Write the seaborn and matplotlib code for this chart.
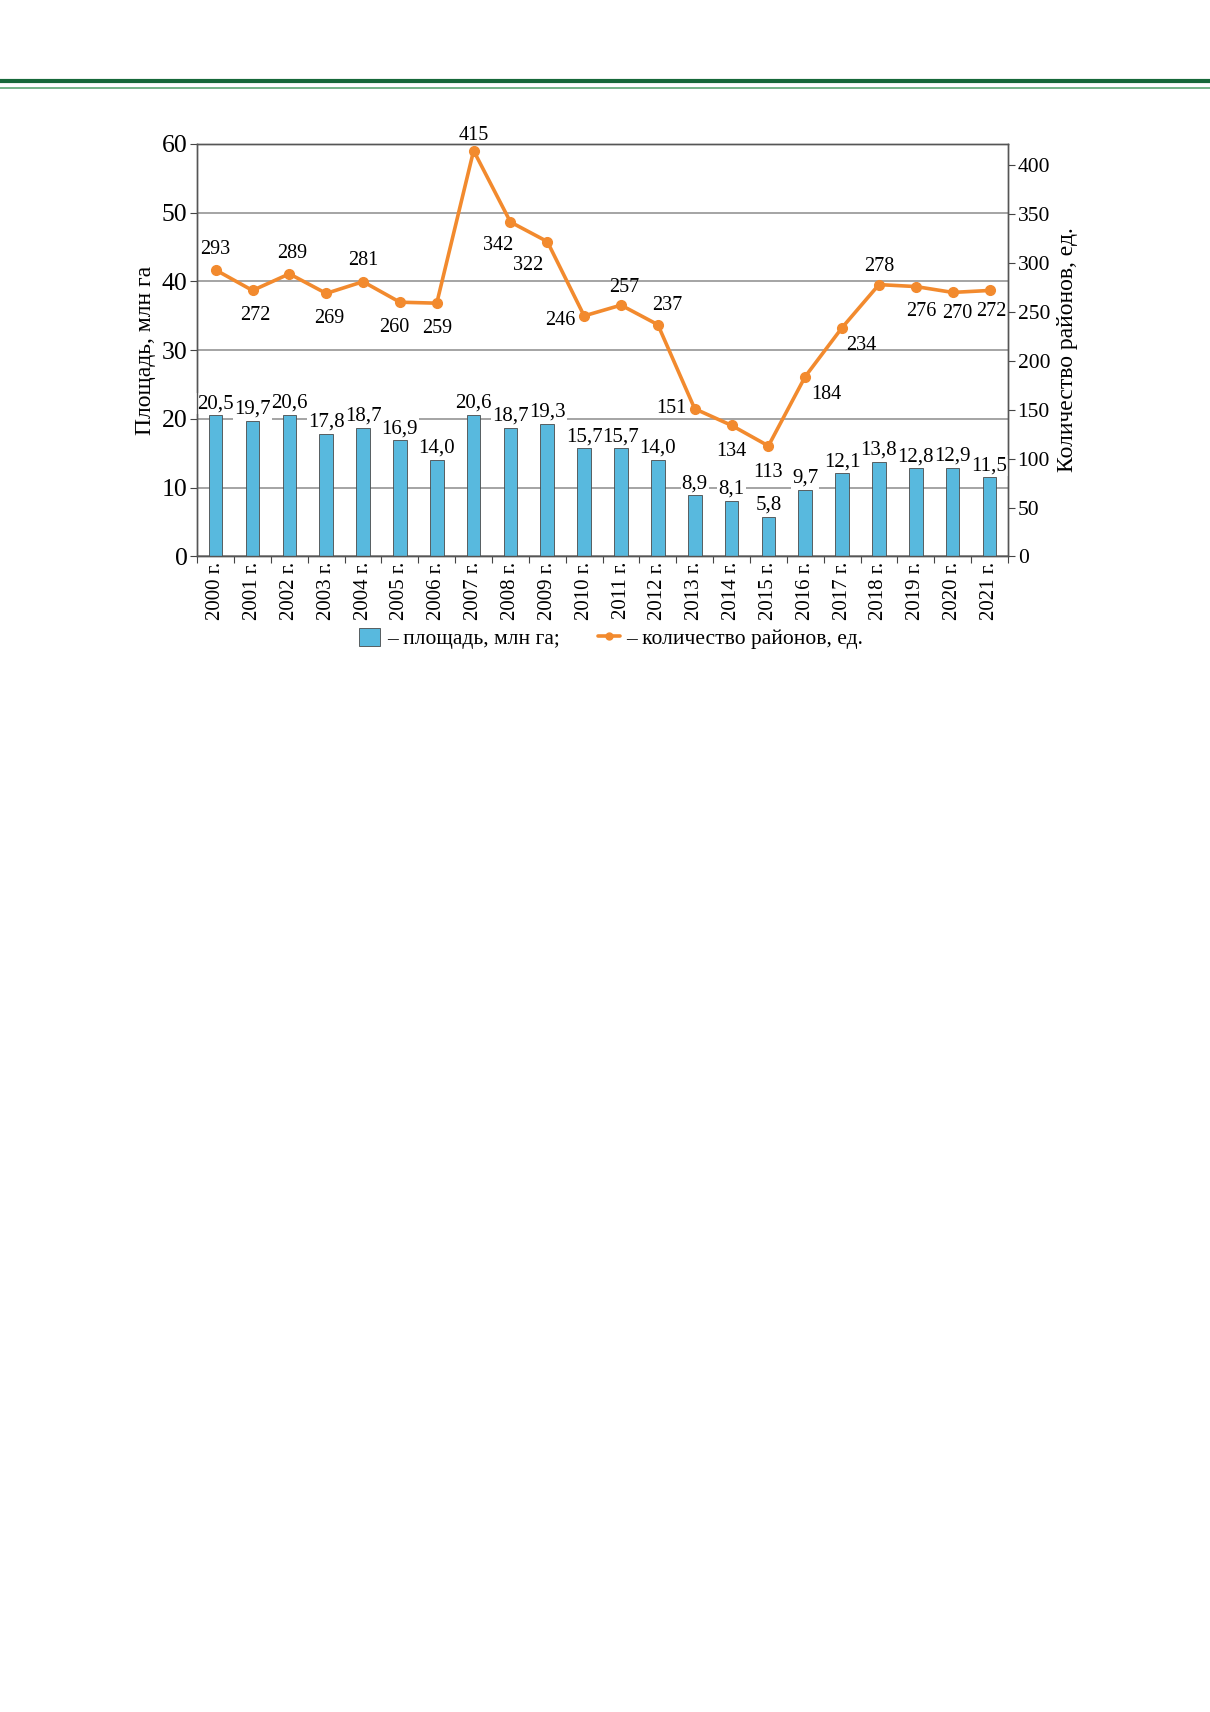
import matplotlib
matplotlib.use("Agg")
import matplotlib.pyplot as plt
import seaborn as sns
import pandas as pd
import numpy as np
from matplotlib.patches import Patch
from matplotlib.lines import Line2D

# Data
years = [f"{y} г." for y in range(2000, 2022)]
area = [20.5, 19.7, 20.6, 17.8, 18.7, 16.9, 14.0, 20.6, 18.7, 19.3, 15.7,
        15.7, 14.0, 8.9, 8.1, 5.8, 9.7, 12.1, 13.8, 12.8, 12.9, 11.5]
districts = [293, 272, 289, 269, 281, 260, 259, 415, 342, 322, 246,
             257, 237, 151, 134, 113, 184, 234, 278, 276, 270, 272]
left_ticks = [0, 10, 20, 30, 40, 50, 60]
right_ticks = [0, 50, 100, 150, 200, 250, 300, 350, 400]

# label offsets (points) for line values
line_offsets = [(0, 15), (2, -18), (2, 15), (2, -18), (0, 15), (-4, -18), (0, -18),
                (0, 11), (-9, -17), (-14, -17), (-17, -3), (2, 13), (7, 14),
                (-17, 0), (0, -19), (0, -19), (15, -13), (14, -13), (0, 13),
                (4, -18), (3, -15), (1, -15)]

BLUE = "#58b9de"
ORANGE = "#f28a2e"

df = pd.DataFrame({"year": years, "area": area, "districts": districts})

sns.set_theme(style="white")
plt.rcParams["font.family"] = ["Liberation Serif", "DejaVu Serif"]
plt.rcParams["text.color"] = "black"
plt.rcParams["axes.labelcolor"] = "black"
plt.rcParams["xtick.color"] = "black"
plt.rcParams["ytick.color"] = "black"

fig = plt.figure(figsize=(12.1, 17.12), dpi=100)
ax = fig.add_axes([0.163, 0.675, 0.670, 0.241])

sns.barplot(data=df, x="year", y="area", color=BLUE, width=0.37,
            edgecolor="#4a4a4a", linewidth=0.6, saturation=1, ax=ax, zorder=3)
ax.set_ylim(0, 60)
ax.set_xlim(-0.5, len(years) - 0.5)
ax.set_yticks(left_ticks)
ax.yaxis.grid(True, color="#8c8c8c", linewidth=1.1)
ax.set_axisbelow(True)
ax.tick_params(axis="y", labelsize=18.5, length=5, width=0.8, color="#444",
               labelcolor="black", direction="out", left=True, pad=2)
ax.tick_params(axis="x", which="major", length=0, labelsize=15, rotation=90,
               labelcolor="black", pad=4)
ax.set_xticks(np.arange(-0.5, len(years)), minor=True)
ax.tick_params(axis="x", which="minor", length=5, width=0.8, color="#444", bottom=True, direction="out")
ax.set_xlabel("")
ax.set_ylabel("Площадь, млн га", fontsize=17, labelpad=4, color="black")
for s in ax.spines.values():
    s.set_color("#555555")
    s.set_linewidth(1.0)

for i, v in enumerate(area):
    ax.annotate(f"{v:.1f}".replace(".", ","), (i, v), xytext=(0, 1.5),
                textcoords="offset points", ha="center", va="bottom", fontsize=15,
                bbox=dict(boxstyle="square,pad=0.05", fc="white", ec="none"), zorder=4)

ax2 = ax.twinx()
ax2.plot(np.arange(len(years)), districts, color=ORANGE, linewidth=2.6,
         marker="o", markersize=7, zorder=5)
ax2.set_ylim(0, 422)
ax2.set_yticks(right_ticks)
ax2.tick_params(axis="y", labelsize=15.5, length=5, width=0.8, color="#444",
                labelcolor="black", right=True, direction="out", pad=2)
ax2.set_ylabel("Количество районов, ед.", fontsize=17, labelpad=5, color="black")
ax2.grid(False)
for s in ax2.spines.values():
    s.set_color("#555555")
    s.set_linewidth(1.0)

for i, (v, off) in enumerate(zip(districts, line_offsets)):
    ax2.annotate(str(v), (i, v), xytext=off, textcoords="offset points",
                 ha="center", va="center", fontsize=14.5)

# header lines
fig.add_artist(Line2D([0, 1], [0.9525, 0.9525], color="#17683a", linewidth=3.0))
fig.add_artist(Line2D([0, 1], [0.9488, 0.9488], color="#4fa06a", linewidth=1.1))

handles = [Patch(facecolor=BLUE, edgecolor="#4a4a4a", linewidth=0.6),
           Line2D([0], [0], color=ORANGE, linewidth=2.6, marker="o", markersize=5)]
fig.legend(handles, ["– площадь, млн га;", "– количество районов, ед."],
           loc="center", bbox_to_anchor=(0.505, 0.627), ncol=2, frameon=False,
           fontsize=15.5, handlelength=1.0, handleheight=0.9, handletextpad=0.3,
           columnspacing=1.8)

fig.savefig("out.png", dpi=100, facecolor="white")
